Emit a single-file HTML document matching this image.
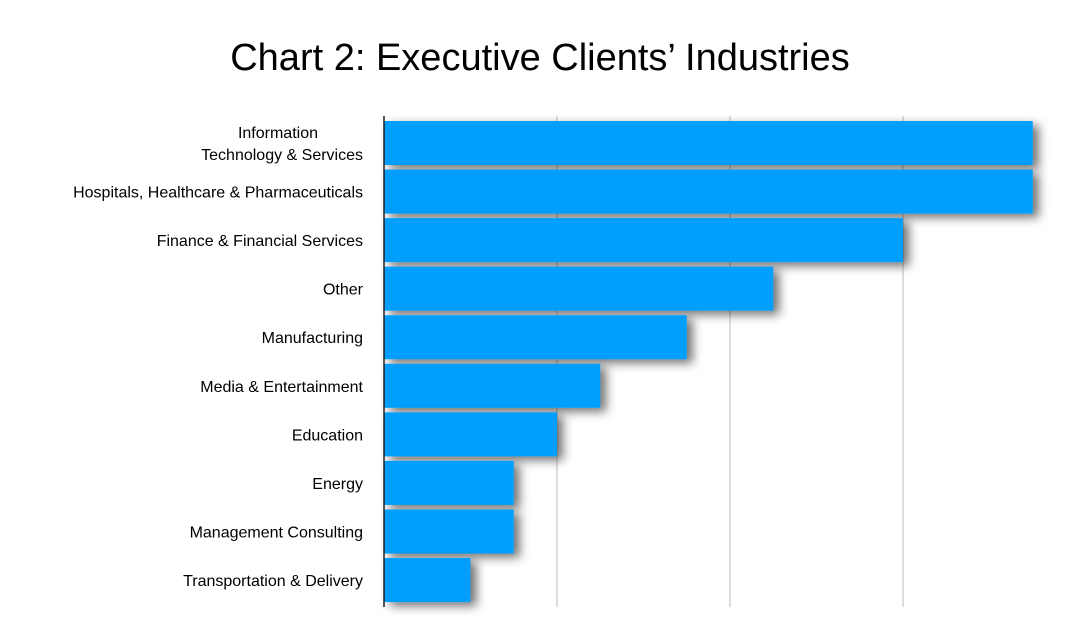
<!DOCTYPE html>
<html><head><meta charset="utf-8"><style>
body{margin:0;background:#fff;}
svg{display:block;font-family:"Liberation Sans",Arial,sans-serif;}
</style></head><body>
<svg id="chart" width="1080" height="644">
<defs><filter id="sh" x="-10%" y="-30%" width="130%" height="180%"><feDropShadow dx="6" dy="4" stdDeviation="5" flood-color="#000" flood-opacity="0.55"/></filter></defs>
<text x="540" y="70" text-anchor="middle" font-size="38" fill="#000">Chart 2: Executive Clients’ Industries</text>
<g id="grid"></g><g id="bars"></g><g id="labels"></g>
<line x1="384" y1="116" x2="384" y2="607" stroke="#222" stroke-width="1.5"/>
</svg>
<script>
const categories=["Information|Technology & Services","Hospitals, Healthcare & Pharmaceuticals","Finance & Financial Services","Other","Manufacturing","Media & Entertainment","Education","Energy","Management Consulting","Transportation & Delivery"];
const values=[15,15,12,9,7,5,4,3,3,2];
const gridTicks=[4,8,12];
const ns="http://www.w3.org/2000/svg";
const x0=384,unit=173/4,top0=121,pitch=48.56,bh=44;
const xs=v=>x0+v*unit, ys=i=>top0+i*pitch;
const g=document.getElementById('grid'),b=document.getElementById('bars'),l=document.getElementById('labels');
gridTicks.forEach(t=>{const e=document.createElementNS(ns,'line');
e.setAttribute('x1',xs(t));e.setAttribute('x2',xs(t));e.setAttribute('y1',116);e.setAttribute('y2',607);
e.setAttribute('stroke','#bbb');e.setAttribute('stroke-width','1');


g.appendChild(e);});
values.forEach((v,i)=>{const r=document.createElementNS(ns,'rect');
r.setAttribute('x',x0);r.setAttribute('y',ys(i));r.setAttribute('width',xs(v)-x0);r.setAttribute('height',bh);
r.setAttribute('fill','#009efd');r.setAttribute('filter','url(#sh)');


b.appendChild(r);
const parts=categories[i].split('|');
const t=document.createElementNS(ns,'text');
t.setAttribute('text-anchor','end');t.setAttribute('font-size','16');t.setAttribute('fill','#000');


const cy=ys(i)+bh/2;
if(parts.length===1){t.setAttribute('x',363);t.setAttribute('y',cy+6);t.textContent=parts[0];}
else{parts.forEach((p,k)=>{const s=document.createElementNS(ns,'tspan');
s.setAttribute('x',k===0?318:363);s.setAttribute('y',cy-5+k*22);s.textContent=p;t.appendChild(s);});}
l.appendChild(t);});
</script>
</body></html>
